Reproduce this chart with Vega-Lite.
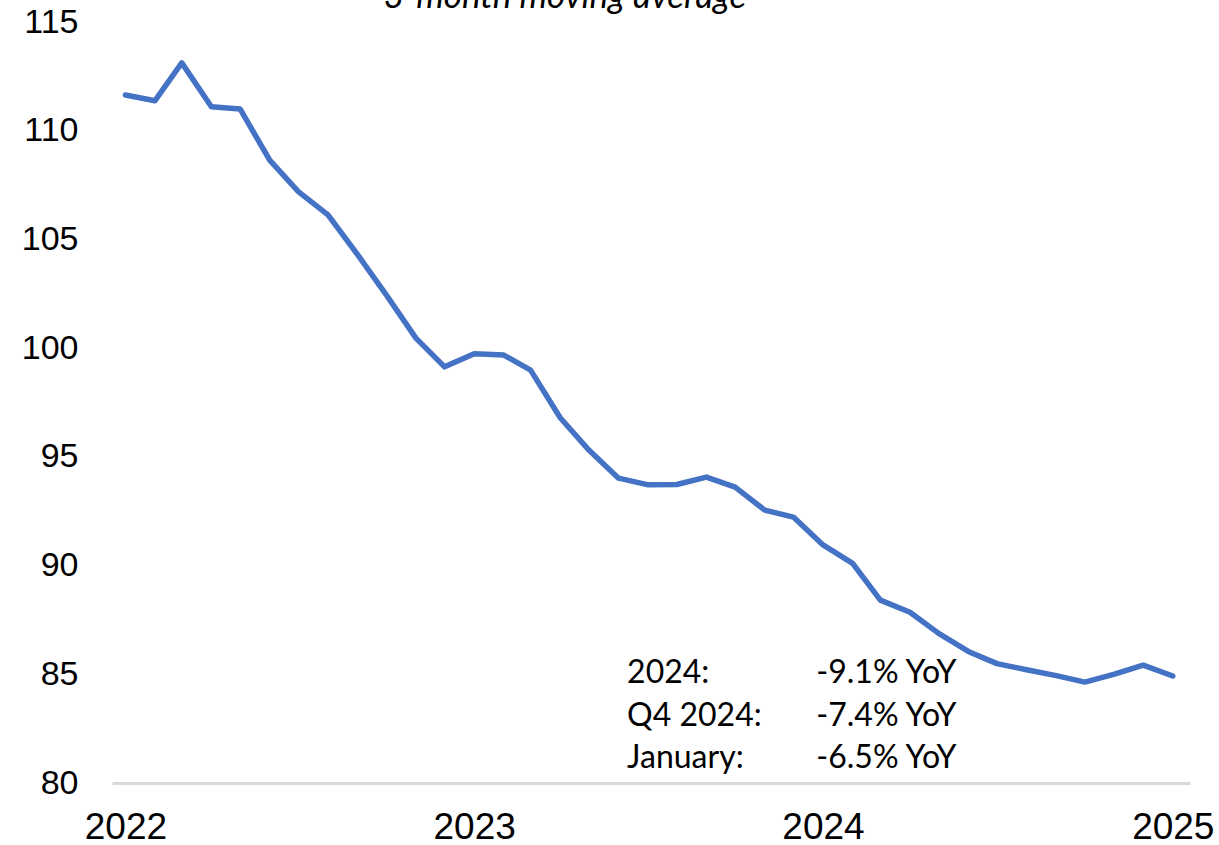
{
  "$schema": "https://vega.github.io/schema/vega-lite/v6.json",
  "width": 1078,
  "height": 761,
  "autosize": {"type": "none"},
  "padding": {"left": 112, "top": 22, "right": 29, "bottom": 62},
  "background": "white",
  "config": {"view": {"stroke": null}, "axis": {"grid": false}},
  "datasets": {
    "series": [
      {"month": "2022-01-01", "value": 111.64},
      {"month": "2022-02-01", "value": 111.38},
      {"month": "2022-03-01", "value": 113.12},
      {"month": "2022-04-01", "value": 111.1},
      {"month": "2022-05-01", "value": 111.0},
      {"month": "2022-06-01", "value": 108.65},
      {"month": "2022-07-01", "value": 107.2},
      {"month": "2022-08-01", "value": 106.13},
      {"month": "2022-09-01", "value": 104.3},
      {"month": "2022-10-01", "value": 102.45},
      {"month": "2022-11-01", "value": 100.46},
      {"month": "2022-12-01", "value": 99.14},
      {"month": "2023-01-01", "value": 99.74},
      {"month": "2023-02-01", "value": 99.68},
      {"month": "2023-03-01", "value": 98.99},
      {"month": "2023-04-01", "value": 96.8},
      {"month": "2023-05-01", "value": 95.31},
      {"month": "2023-06-01", "value": 94.02},
      {"month": "2023-07-01", "value": 93.72},
      {"month": "2023-08-01", "value": 93.73},
      {"month": "2023-09-01", "value": 94.07},
      {"month": "2023-10-01", "value": 93.61},
      {"month": "2023-11-01", "value": 92.55},
      {"month": "2023-12-01", "value": 92.23},
      {"month": "2024-01-01", "value": 90.95},
      {"month": "2024-02-01", "value": 90.1},
      {"month": "2024-03-01", "value": 88.41},
      {"month": "2024-04-01", "value": 87.85},
      {"month": "2024-05-01", "value": 86.88},
      {"month": "2024-06-01", "value": 86.05},
      {"month": "2024-07-01", "value": 85.49},
      {"month": "2024-08-01", "value": 85.21},
      {"month": "2024-09-01", "value": 84.94},
      {"month": "2024-10-01", "value": 84.64},
      {"month": "2024-11-01", "value": 85.01},
      {"month": "2024-12-01", "value": 85.42},
      {"month": "2025-01-01", "value": 84.92}
    ],
    "notes": [
      {"label": "2024:", "stat": "-9.1% YoY", "level": 84.6},
      {"label": "Q4 2024:", "stat": "-7.4% YoY", "level": 82.62},
      {"label": "January:", "stat": "-6.5% YoY", "level": 80.69}
    ],
    "heading": [
      {"text": "3-month moving average"}
    ]
  },
  "layer": [
    {
      "data": {"name": "series"},
      "mark": {"type": "line", "color": "#4472C4", "strokeWidth": 5.5, "strokeCap": "round", "strokeJoin": "round"},
      "encoding": {
        "x": {
          "field": "month",
          "type": "temporal",
          "scale": {
            "type": "utc",
            "domain": [
              {"year": 2021, "month": 12, "date": 18, "utc": true},
              {"year": 2025, "month": 1, "date": 19, "utc": true}
            ]
          },
          "axis": {
            "title": null,
            "values": [
              {"year": 2022, "month": 1, "date": 1, "utc": true},
              {"year": 2023, "month": 1, "date": 1, "utc": true},
              {"year": 2024, "month": 1, "date": 1, "utc": true},
              {"year": 2025, "month": 1, "date": 1, "utc": true}
            ],
            "format": "%Y",
            "formatType": "utc",
            "labelFont": "Liberation Sans",
            "labelFontSize": 37,
            "labelColor": "#000000",
            "labelPadding": 26,
            "labelFlush": false,
            "labelOverlap": false,
            "ticks": false,
            "tickSize": 0,
            "domainColor": "#d9d9d9",
            "domainWidth": 3,
            "grid": false
          }
        },
        "y": {
          "field": "value",
          "type": "quantitative",
          "scale": {"domain": [80, 115], "nice": false, "zero": false},
          "axis": {
            "title": null,
            "values": [80, 85, 90, 95, 100, 105, 110, 115],
            "labelFont": "Liberation Sans",
            "labelFontSize": 34,
            "labelColor": "#000000",
            "labelPadding": 34,
            "ticks": false,
            "tickSize": 0,
            "domain": false,
            "grid": false
          }
        }
      }
    },
    {
      "data": {"name": "heading"},
      "mark": {"type": "text", "align": "center", "baseline": "alphabetic", "font": "Lato", "fontStyle": "italic", "fontSize": 35, "color": "#000000"},
      "encoding": {
        "x": {"datum": {"year": 2023, "month": 4, "date": 6, "utc": true}, "type": "temporal"},
        "y": {"datum": 115.64, "type": "quantitative"},
        "text": {"field": "text"}
      }
    },
    {
      "data": {"name": "notes"},
      "mark": {"type": "text", "align": "left", "baseline": "alphabetic", "font": "Lato", "fontSize": 32, "color": "#000000"},
      "encoding": {
        "x": {"datum": {"year": 2023, "month": 6, "date": 10, "utc": true}, "type": "temporal"},
        "y": {"field": "level", "type": "quantitative"},
        "text": {"field": "label"}
      }
    },
    {
      "data": {"name": "notes"},
      "mark": {"type": "text", "align": "left", "baseline": "alphabetic", "font": "Lato", "fontSize": 32, "color": "#000000"},
      "encoding": {
        "x": {"datum": {"year": 2023, "month": 12, "date": 25, "utc": true}, "type": "temporal"},
        "y": {"field": "level", "type": "quantitative"},
        "text": {"field": "stat"}
      }
    }
  ]
}
